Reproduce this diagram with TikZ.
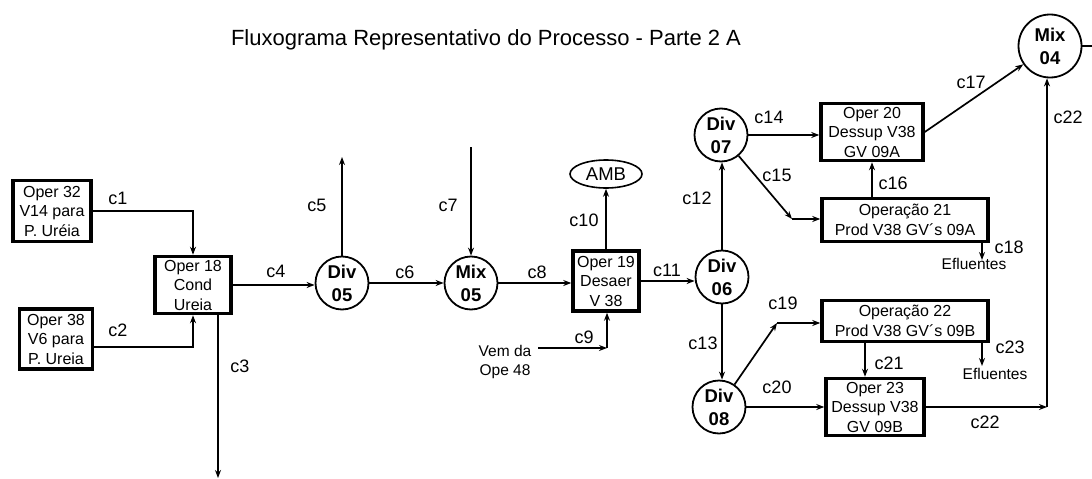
\documentclass[tikz,border=0pt]{standalone}
\usepackage{fontspec}
\setmainfont{Liberation Sans}
\usetikzlibrary{arrows.meta,shapes.geometric,calc}
\begin{document}
\begin{tikzpicture}[x=1pt,y=-1pt,
  arr/.style={line width=1.7pt,-{Stealth[length=8pt,width=6pt]}},
  ln/.style={line width=1.7pt},
  opbox/.style={draw,line width=3.5pt,inner sep=0pt,align=center,font=\fontsize{16}{19.5}\selectfont},
  unit/.style={draw,circle,line width=1.8pt,minimum size=53pt,inner sep=0pt,align=center,font=\fontsize{18.5}{23}\selectfont\bfseries},
  lbl/.style={inner sep=0pt,font=\fontsize{18}{20}\selectfont},
  small/.style={inner sep=0pt,align=center,font=\fontsize{15.5}{19.5}\selectfont},
  ttl/.style={inner sep=0pt,anchor=base,font=\fontsize{22}{26}\selectfont}]
\useasboundingbox (0,0) rectangle (1092,479);

\node[ttl] (title) at (486,45) {Fluxograma Representativo do Processo - Parte 2 A};

% operations
\node[opbox,minimum width=78pt,minimum height=61pt] (o32) at (52,211) {Oper 32\\V14 para\\P. Uréia};
\node[opbox,minimum width=73pt,minimum height=60pt] (o38) at (56,339) {Oper 38\\V6 para\\P. Ureia};
\node[opbox,minimum width=76pt,minimum height=57pt] (o18) at (193,285) {Oper 18\\Cond\\Ureia};
\node[opbox,minimum width=66pt,minimum height=60pt] (o19) at (606,281) {Oper 19\\Desaer\\V 38};
\node[opbox,minimum width=102pt,minimum height=57pt] (o20) at (872,132) {Oper 20\\Dessup V38\\GV 09A};
\node[opbox,minimum width=166pt,minimum height=43pt] (o21) at (905,220) {Operação 21\\Prod V38 GV´s 09A};
\node[opbox,minimum width=166pt,minimum height=41pt] (o22) at (905,321) {Operação 22\\Prod V38 GV´s 09B};
\node[opbox,minimum width=98pt,minimum height=57pt] (o23) at (875,407) {Oper 23\\Dessup V38\\GV 09B};

% dividers / mixers
\node[unit] (d05) at (342,283) {Div\\05};
\node[unit] (m05) at (471,283) {Mix\\05};
\node[unit] (d06) at (722,277) {Div\\06};
\node[unit] (d07) at (721,135) {Div\\07};
\node[unit] (d08) at (719,407) {Div\\08};
\node[unit,minimum size=63pt] (m04) at (1050,46) {Mix\\04};

\node[draw,ellipse,line width=1.6pt,minimum width=72pt,minimum height=28pt,inner sep=0pt,font=\fontsize{18.5}{20}\selectfont] (amb) at (606,174) {AMB};

\node[small] (vem) at (505,362) {Vem da\\Ope 48};
\node[small] (ef1) at (974,264) {Efluentes};
\node[small] (ef2) at (995,374) {Efluentes};

% free ends / corners
\coordinate (c3e) at (218,478);
\coordinate (c5e) at (342,157);
\coordinate (c7s) at (471,147);
\coordinate (c9s) at (538,348);
\coordinate (c9k) at (607,348);
\coordinate (c15k) at (792,219);
\coordinate (c19k) at (777,323);
\coordinate (c21x) at (865,0);
\coordinate (c22k) at (1047,407);
\coordinate (c18e) at (982,260);
\coordinate (c23e) at (982,366);
\coordinate (m04e) at (1092,46);

% connectors
\draw[arr] (o32.east) -| (o18.north);
\draw[arr] ($(o38.east)+(0,8)$) -| (o18.south);
\draw[arr] (c3e |- o18.south) -- (c3e);
\draw[arr] (o18.east) -- (o18.east -| d05.west);
\draw[arr] (d05.north) -- (c5e);
\draw[arr] (d05) -- (m05);
\draw[arr] (c7s) -- (m05.north);
\draw[arr] (m05.east) -- (m05.east -| o19.west);
\draw[arr] (c9s) -- (c9k);
\draw[arr] (c9k) -- (c9k |- o19.south);
\draw[arr] (o19.north) -- (amb.south);
\draw[arr] (o19.east) -- (o19.east -| d06.west);
\draw[arr] (d06.north) -- (d06.north |- d07.south);
\draw[arr] (d06.south) -- (d06.south |- d08.north);
\draw[arr] (d07.east) -- (d07.east -| o20.west);
\draw[arr] (d07) -- (c15k);
\draw[arr] (c15k) -- (c15k -| o21.west);
\draw[arr] (o21.north -| o20.south) -- (o20.south);
\draw[arr] (o20.east) -- (m04);
\draw[ln] (m04.east) -- (m04e);
\draw[arr] (o21.south -| c18e) -- (c18e);
\draw[arr] (d08) -- (c19k);
\draw[arr] (c19k) -- (c19k -| o22.west);
\draw[arr] (d08.east) -- (o23.west);
\draw[arr] (c21x |- o22.south) -- (c21x |- o23.north);
\draw[arr] (o22.south -| c23e) -- (c23e);
\draw[arr] (o23.east) -- (c22k);
\draw[arr] (c22k) -- (c22k |- m04.south);

% labels
\node[lbl] at (118,198) {c1};
\node[lbl] at (118,330) {c2};
\node[lbl] at (240,366) {c3};
\node[lbl] at (276,271) {c4};
\node[lbl] at (317,205) {c5};
\node[lbl] at (405,272) {c6};
\node[lbl] at (448,205) {c7};
\node[lbl] at (537,272) {c8};
\node[lbl] at (584,337) {c9};
\node[lbl] at (584,220) {c10};
\node[lbl] at (667,270) {c11};
\node[lbl] at (697,198) {c12};
\node[lbl] at (703,343) {c13};
\node[lbl] at (769,117) {c14};
\node[lbl] at (777,175) {c15};
\node[lbl] at (893,183) {c16};
\node[lbl] at (971,82) {c17};
\node[lbl] at (1009,247) {c18};
\node[lbl] at (783,303) {c19};
\node[lbl] at (777,387) {c20};
\node[lbl] at (889,363) {c21};
\node[lbl] at (1068,117) {c22};
\node[lbl] at (985,422) {c22};
\node[lbl] at (1010,347) {c23};
\end{tikzpicture}
\end{document}
